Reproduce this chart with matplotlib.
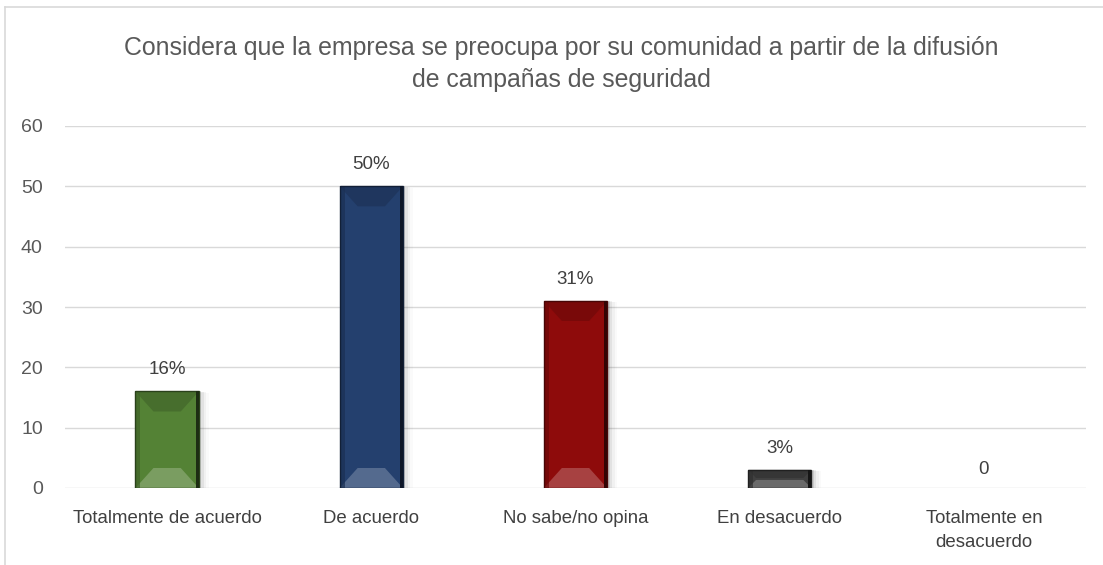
import matplotlib
matplotlib.use("Agg")
import matplotlib.pyplot as plt
from matplotlib.patches import Polygon, Rectangle
import matplotlib.colors as mc
import numpy as np

categories = ["Totalmente de acuerdo", "De acuerdo", "No sabe/no opina",
              "En desacuerdo", "Totalmente en\ndesacuerdo"]
values = [16, 50, 31, 3, 0]
labels = ["16%", "50%", "31%", "3%", "0"]
colors = ["#548235", "#24406e", "#8e0b0b", "#404040", "#808080"]
title = "Considera que la empresa se preocupa por su comunidad a partir de la difusión\nde campañas de seguridad"
yticks = [0, 10, 20, 30, 40, 50, 60]

FONT = ["Liberation Sans", "DejaVu Sans"]

W, H = 1103, 565
fig = plt.figure(figsize=(W / 100, H / 100), dpi=100)
fig.patch.set_facecolor("white")

# outer chart border (top and left visible)
fig.add_artist(plt.Line2D([5 / W, 1.0], [1 - 7 / H, 1 - 7 / H], color="#d9d9d9", lw=1.2))
fig.add_artist(plt.Line2D([5 / W, 5 / W], [0, 1 - 7 / H], color="#d9d9d9", lw=1.2))

ax_l, ax_r, ax_b, ax_t = 65, 1086, 488, 126
ax = fig.add_axes([ax_l / W, 1 - ax_b / H, (ax_r - ax_l) / W, (ax_b - ax_t) / H])
ax.set_xlim(-0.5, 4.5)
ax.set_ylim(0, 60)
ax.set_yticks(yticks)
ax.grid(axis="y", color="#d9d9d9", lw=1)
ax.set_axisbelow(True)
for s in ax.spines.values():
    s.set_visible(False)
ax.tick_params(axis="both", length=0, colors="#595959")
ax.tick_params(axis="y", labelsize=14, pad=16)
ax.set_xticks(range(len(categories)))
ax.set_xticklabels(categories, fontsize=13.4, color="#404040", family=FONT, linespacing=1.55)
ax.tick_params(axis="x", pad=16)
for t in ax.get_yticklabels():
    t.set_family(FONT)
    t.set_color("#595959")

xpp = 5 / (ax_r - ax_l)
ypp = 60 / (ax_b - ax_t)
width = 0.31

def shade(c, f):
    r, g, b = mc.to_rgb(c)
    if f < 1:
        return (r * f, g * f, b * f)
    return (r + (1 - r) * (f - 1), g + (1 - g) * (f - 1), b + (1 - b) * (f - 1))

x = np.arange(len(categories))
for i, (v, c) in enumerate(zip(values, colors)):
    if v <= 0:
        continue
    x0, x1 = x[i] - width / 2, x[i] + width / 2
    # soft shadow
    for k, a in enumerate([0.10, 0.06, 0.035, 0.02]):
        ax.add_patch(Rectangle((x1, 0), (k + 1) * 2.5 * xpp, v - k * 0.5 * ypp, color="black",
                               alpha=a, lw=0, zorder=2))
    ax.bar(x[i], v, width=width, color=c, zorder=3, lw=0)
    top = v
    bv = min(20 * ypp, v / 2 - 1 * ypp)
    b = min(18 * xpp, (x1 - x0) / 2 - 2 * xpp)
    if v / ypp < 30:
        b = 8 * xpp
    ax.add_patch(Polygon([(x0, top), (x1, top), (x1 - b, top - bv), (x0 + b, top - bv)],
                         closed=True, color=shade(c, 0.85), lw=0, zorder=4))
    ax.add_patch(Polygon([(x0, 0), (x1, 0), (x1 - b, bv), (x0 + b, bv)],
                         closed=True, color=shade(c, 1.22), lw=0, zorder=4))
    # subtle side strips
    ax.add_patch(Rectangle((x0, 0), 5 * xpp, v, color=shade(c, 0.75), lw=0, zorder=4.5, alpha=0.7))
    ax.add_patch(Rectangle((x0, 0), x1 - x0, v, fill=False, ec=shade(c, 0.5), lw=1.0, zorder=5))
    ax.add_patch(Rectangle((x1 - 3 * xpp, 0), 3 * xpp, v, color=shade(c, 0.35), lw=0, zorder=5))

for i, (v, lab) in enumerate(zip(values, labels)):
    off = 2.2 if v > 0 else 1.6
    ax.text(x[i], v + off, lab, ha="center", va="bottom", fontsize=13.5, color="#404040",
            family=FONT)

fig.text(561 / W, 1 - 64 / H, title, ha="center", va="center", fontsize=17.9,
         color="#595959", family=FONT, linespacing=1.4)

fig.savefig("out.png", dpi=100, facecolor="white")
